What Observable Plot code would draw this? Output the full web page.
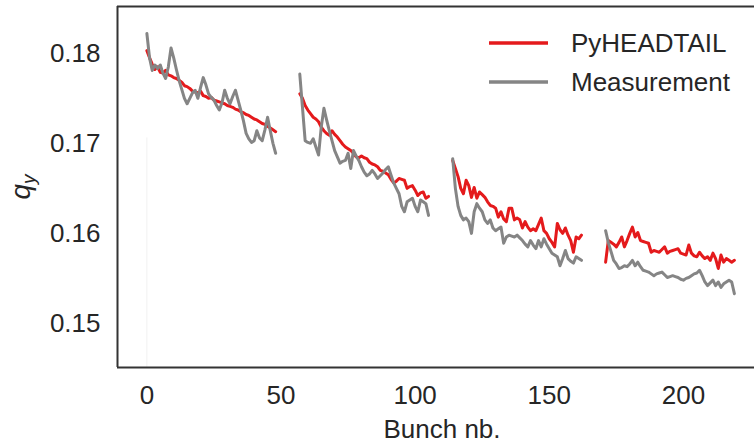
<!DOCTYPE html>
<html>
<head>
<meta charset="utf-8">
<script src="https://cdn.jsdelivr.net/npm/d3@7"></script>
<script src="https://cdn.jsdelivr.net/npm/@observablehq/plot@0.6"></script>
<style>
  html, body { margin: 0; padding: 0; background: #fff; }
  #chart svg { display: block; }
</style>
</head>
<body>
<div id="chart"></div>
<script>
// ---- data ----
const seriesNames = ["PyHEADTAIL", "Measurement"];
const seriesColors = ["#e41a1c", "#858585"];
const batchStart = [0, 57, 114, 171];

const pyheadtail1 = [0.1803,0.1795,0.1788,0.1782,0.1785,0.1779,0.1778,0.1781,0.1776,0.1775,0.1773,0.1772,0.1770,0.1768,0.1764,0.1763,0.1761,0.1758,0.1757,0.1756,0.1758,0.1753,0.1752,0.1750,0.1751,0.1748,0.1747,0.1746,0.1745,0.1744,0.1742,0.1741,0.1740,0.1738,0.1737,0.1735,0.1734,0.1732,0.1731,0.1729,0.1727,0.1726,0.1724,0.1722,0.1721,0.1719,0.1717,0.1715,0.1713];
const pyheadtail2 = [0.1755,0.1750,0.1742,0.1737,0.1733,0.1729,0.1727,0.1724,0.1718,0.1714,0.1711,0.1709,0.1714,0.1710,0.1707,0.1703,0.1699,0.1696,0.1694,0.1692,0.1689,0.1685,0.1684,0.1686,0.1684,0.1683,0.1679,0.1677,0.1676,0.1674,0.1670,0.1669,0.1667,0.1665,0.1660,0.1656,0.1658,0.1661,0.1660,0.1659,0.1650,0.1652,0.1653,0.1648,0.1642,0.1645,0.1646,0.1639,0.1641];
const pyheadtail3 = [0.1681,0.1672,0.1663,0.1650,0.1644,0.1659,0.1653,0.1640,0.1651,0.1639,0.1646,0.1643,0.1640,0.1635,0.1631,0.1630,0.1628,0.1618,0.1624,0.1616,0.1613,0.1628,0.1628,0.1615,0.1617,0.1615,0.1606,0.1613,0.1607,0.1603,0.1605,0.1603,0.1610,0.1617,0.1603,0.1600,0.1594,0.1590,0.1585,0.1611,0.1604,0.1600,0.1606,0.1598,0.1592,0.1579,0.1596,0.1594,0.1598];
const pyheadtail4 = [0.1568,0.1592,0.1590,0.1588,0.1585,0.1590,0.1596,0.1585,0.1592,0.1600,0.1607,0.1596,0.1601,0.1592,0.1591,0.1590,0.1589,0.1579,0.1581,0.1580,0.1579,0.1582,0.1585,0.1578,0.1580,0.1581,0.1582,0.1583,0.1578,0.1577,0.1576,0.1587,0.1578,0.1575,0.1574,0.1579,0.1575,0.1572,0.1574,0.1570,0.1578,0.1572,0.1561,0.1576,0.1568,0.1572,0.1570,0.1568,0.1570];

const measurement1 = [0.1822,0.1795,0.1781,0.1787,0.1783,0.1787,0.1778,0.1772,0.1785,0.1806,0.1795,0.1782,0.1770,0.1760,0.1750,0.1744,0.1750,0.1756,0.1759,0.1750,0.1762,0.1773,0.1765,0.1755,0.1751,0.1748,0.1742,0.1737,0.1745,0.1759,0.1750,0.1744,0.1752,0.1759,0.1748,0.1737,0.1725,0.1711,0.1705,0.1701,0.1703,0.1714,0.1706,0.1703,0.1715,0.1729,0.1714,0.1700,0.1689];
const measurement2 = [0.1777,0.1740,0.1703,0.1701,0.1700,0.1705,0.1696,0.1687,0.1718,0.1739,0.1726,0.1714,0.1703,0.1692,0.1685,0.1678,0.1680,0.1681,0.1689,0.1672,0.1692,0.1686,0.1681,0.1674,0.1668,0.1664,0.1666,0.1670,0.1666,0.1661,0.1664,0.1667,0.1671,0.1674,0.1665,0.1656,0.1650,0.1644,0.1630,0.1624,0.1635,0.1637,0.1639,0.1630,0.1624,0.1637,0.1635,0.1633,0.1620];
const measurement3 = [0.1683,0.1650,0.1630,0.1620,0.1615,0.1617,0.1613,0.1600,0.1624,0.1633,0.1628,0.1624,0.1615,0.1611,0.1615,0.1606,0.1603,0.1605,0.1607,0.1589,0.1596,0.1598,0.1597,0.1596,0.1598,0.1595,0.1592,0.1588,0.1585,0.1592,0.1587,0.1583,0.1592,0.1585,0.1594,0.1588,0.1583,0.1578,0.1576,0.1574,0.1564,0.1572,0.1581,0.1572,0.1569,0.1567,0.1574,0.1572,0.1570];
const measurement4 = [0.1603,0.1590,0.1580,0.1570,0.1566,0.1561,0.1562,0.1564,0.1563,0.1566,0.1570,0.1564,0.1568,0.1563,0.1559,0.1558,0.1557,0.1555,0.1553,0.1555,0.1556,0.1557,0.1554,0.1551,0.1552,0.1553,0.1552,0.1551,0.1549,0.1548,0.1550,0.1551,0.1553,0.1555,0.1556,0.1559,0.1553,0.1546,0.1542,0.1545,0.1548,0.1542,0.1546,0.1540,0.1544,0.1546,0.1548,0.1546,0.1533];

const xTicks = [0, 50, 100, 150, 200];
const yTicks = [0.15, 0.16, 0.17, 0.18];
const xLabel = "Bunch nb.";
const xDomain = [-10.95, 226.5];
const yDomain = [0.1451, 0.1852];

// ---- build table ----
const batches = {
  PyHEADTAIL: [pyheadtail1, pyheadtail2, pyheadtail3, pyheadtail4],
  Measurement: [measurement1, measurement2, measurement3, measurement4]
};
const rows = [];
for (const s of seriesNames) {
  batches[s].forEach((arr, b) => {
    arr.forEach((v, i) => rows.push({series: s, batch: s + b, bunch: batchStart[b] + i, q: v}));
  });
}

const font = "'Liberation Sans', Arial, Helvetica, sans-serif";
const textColor = "#262626";

const chart = Plot.plot({
  width: 754,
  height: 444,
  marginLeft: 117,
  marginRight: 0,
  marginTop: 6,
  marginBottom: 77,
  style: {fontFamily: font, fontSize: "26px", color: textColor, background: "#fff", overflow: "visible"},
  x: {domain: xDomain, ticks: xTicks, tickSize: 0, tickPadding: 18, label: null},
  y: {domain: yDomain, ticks: yTicks, tickFormat: d3.format(".2f"), tickSize: 0, tickPadding: 17, label: null},
  marks: [
    Plot.ruleX([0], {y1: yDomain[0], y2: 0.1706, stroke: "#f1f1f1", strokeWidth: 1}),
    ...seriesNames.map((s, k) =>
      Plot.line(rows.filter(d => d.series === s), {x: "bunch", y: "q", z: "batch", stroke: seriesColors[k], strokeWidth: 3, strokeLinejoin: "round"})
    ),
    Plot.ruleY([yDomain[0], yDomain[1]], {stroke: "#333", strokeWidth: 2}),
    Plot.ruleX([xDomain[0]], {stroke: "#333", strokeWidth: 2}),
    Plot.text([xLabel], {frameAnchor: "bottom", lineAnchor: "top", dy: 52, dx: 6, fontSize: 26, fill: textColor})
  ]
});

document.getElementById("chart").appendChild(chart);

// ---- y label (q_y) and legend ----
const svg = d3.select(chart);
const ylab = svg.append("text")
  .attr("transform", "translate(30,187) rotate(-90)")
  .attr("text-anchor", "middle")
  .attr("font-family", font)
  .attr("font-size", 28)
  .attr("font-style", "italic")
  .attr("fill", textColor);
ylab.append("tspan").text("q");
ylab.append("tspan").attr("font-size", 19).attr("dy", "0.25em").text("y");

const legend = svg.append("g").attr("font-family", font).attr("font-size", 26).attr("fill", textColor).attr("text-anchor", "start");
seriesNames.forEach((s, k) => {
  const cy = 43 + k * 39;
  legend.append("line").attr("x1", 489).attr("x2", 548).attr("y1", cy).attr("y2", cy)
    .attr("stroke", seriesColors[k]).attr("stroke-width", 3.5);
  legend.append("text").attr("x", 571).attr("y", cy).attr("dy", "0.35em").attr("text-anchor", "start").text(s);
});
</script>
</body>
</html>
